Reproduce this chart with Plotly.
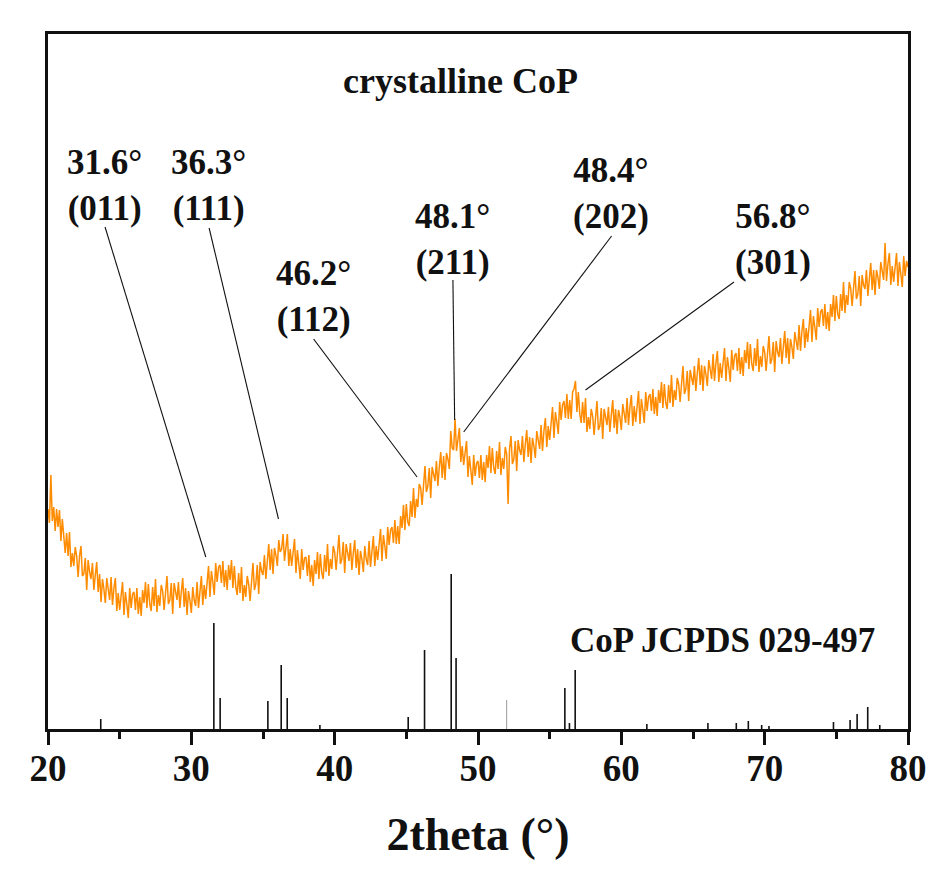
import plotly.graph_objects as go

# ---------------- data ----------------
scan_start = 20.0
scan_step = 0.1
intensity = [
    220, 206, 254, 208, 222, 198, 220, 202, 219, 188,
    210, 187, 176, 196, 173, 197, 162, 176, 163, 182,
    173, 152, 173, 183, 153, 155, 171, 139, 169, 157,
    150, 166, 139, 154, 167, 137, 155, 127, 150, 140,
    126, 151, 137, 129, 152, 124, 141, 151, 118, 136,
    119, 136, 147, 114, 137, 125, 111, 141, 121, 135,
    137, 119, 141, 115, 132, 113, 139, 126, 147, 121,
    145, 125, 118, 142, 123, 150, 117, 134, 123, 144,
    138, 119, 141, 153, 125, 129, 146, 115, 146, 135,
    129, 147, 121, 137, 151, 122, 141, 114, 138, 129,
    116, 142, 129, 123, 147, 121, 140, 153, 124, 144,
    130, 149, 163, 132, 158, 147, 134, 166, 147, 162,
    164, 146, 168, 142, 159, 139, 164, 149, 169, 141,
    163, 142, 134, 156, 136, 162, 128, 144, 132, 153,
    145, 128, 152, 166, 139, 145, 164, 135, 167, 158,
    154, 174, 150, 169, 185, 159, 180, 155, 181, 174,
    163, 189, 177, 180, 195, 168, 185, 195, 163, 180,
    163, 179, 190, 156, 179, 165, 150, 180, 159, 171,
    172, 153, 174, 147, 164, 143, 169, 155, 177, 150,
    175, 156, 150, 174, 157, 185, 153, 170, 160, 183,
    177, 159, 181, 194, 165, 170, 187, 156, 185, 174,
    168, 186, 159, 176, 189, 161, 180, 154, 178, 170,
    157, 183, 170, 164, 188, 162, 181, 193, 163, 183,
    169, 187, 200, 168, 194, 183, 170, 202, 184, 199,
    202, 186, 209, 185, 203, 185, 213, 201, 224, 199,
    225, 207, 203, 228, 212, 241, 211, 230, 222, 245,
    241, 224, 249, 263, 237, 243, 261, 231, 262, 253,
    248, 268, 243, 262, 277, 251, 273, 249, 276, 270,
    260, 298, 281, 279, 310, 278, 293, 301, 267, 283,
    264, 278, 288, 252, 273, 259, 244, 274, 253, 266,
    268, 251, 274, 249, 267, 247, 274, 261, 283, 256,
    281, 261, 255, 278, 260, 287, 254, 271, 260, 282,
    275, 225, 280, 293, 265, 270, 288, 258, 289, 279,
    274, 293, 267, 285, 299, 272, 292, 266, 291, 283,
    271, 298, 286, 280, 304, 278, 298, 311, 282, 303,
    289, 308, 322, 291, 317, 307, 295, 327, 309, 324,
    328, 311, 335, 310, 329, 310, 337, 340, 348, 317,
    337, 315, 306, 327, 306, 331, 297, 312, 300, 320,
    313, 294, 316, 328, 299, 303, 321, 290, 320, 310,
    304, 322, 297, 314, 329, 301, 320, 295, 319, 312,
    299, 325, 313, 306, 331, 304, 322, 334, 303, 323,
    307, 325, 338, 305, 330, 319, 306, 337, 318, 332,
    335, 318, 340, 315, 332, 313, 339, 326, 347, 321,
    345, 326, 320, 344, 326, 354, 322, 339, 329, 351,
    345, 327, 350, 363, 335, 340, 358, 328, 359, 349,
    344, 363, 338, 356, 371, 344, 364, 338, 363, 355,
    343, 369, 357, 350, 375, 348, 366, 378, 347, 366,
    351, 368, 381, 348, 372, 361, 347, 379, 359, 373,
    376, 358, 381, 355, 372, 353, 379, 366, 387, 360,
    385, 365, 358, 381, 363, 390, 357, 373, 362, 383,
    377, 358, 381, 393, 365, 370, 387, 357, 388, 377,
    372, 391, 365, 383, 398, 371, 391, 365, 390, 382,
    370, 397, 385, 379, 404, 378, 398, 410, 381, 401,
    387, 405, 419, 387, 413, 402, 389, 421, 402, 417,
    420, 403, 425, 400, 417, 398, 425, 412, 434, 408,
    433, 415, 410, 435, 418, 447, 416, 434, 424, 447,
    441, 423, 446, 458, 430, 435, 453, 423, 454, 444,
    440, 459, 433, 451, 466, 439, 459, 434, 459, 452,
    440, 467, 455, 449, 486, 448, 465, 476, 444, 463,
    447, 464, 476, 443, 467, 455, 442, 473, 453, 468,
    462,
]
two_theta = [round(scan_start + i * scan_step, 2) for i in range(len(intensity))]

# CoP JCPDS 029-0497 reference sticks
ref_pos = [23.68, 31.57, 32.01, 35.34, 36.27, 36.69, 38.97, 45.13, 46.27, 48.13,
           48.47, 56.06, 56.38, 56.78, 61.78, 66.04, 68.02, 68.86, 69.79, 70.30,
           74.80, 75.96, 76.45, 77.19, 78.03]
ref_int = [10, 106, 31, 28, 64, 31, 4, 12, 79, 155,
           71, 41, 6, 59, 5, 6, 6, 8, 4, 3,
           7, 9, 15, 22, 4]
ref_weak_pos = [52.0]
ref_weak_int = [29]

# peak labels and leader lines
peak_labels = ["31.6°<br>(011)", "36.3°<br>(111)", "46.2°<br>(112)",
               "48.1°<br>(211)", "48.4°<br>(202)", "56.8°<br>(301)"]
label_x = [23.91, 31.20, 38.53, 48.25, 59.28, 70.56]
label_y = [544, 544, 433, 490, 536, 490]
leader_x0 = [23.98, 31.24, 38.53, 48.25, 59.32, 67.86]
leader_y0 = [502, 501, 390, 449, 493, 447]
leader_x1 = [31.01, 36.08, 45.75, 48.37, 49.00, 57.50]
leader_y1 = [172, 210, 252, 309, 297, 339]

sample_title = "crystalline CoP"
ref_title = "CoP JCPDS 029-497"
x_title = "2theta (°)"
x_ticks = [20, 30, 40, 50, 60, 70, 80]

# ---------------- figure ----------------
FONT = "Liberation Serif, Times New Roman, serif"


def sticks(pos, hgt):
    xs, ys = [], []
    for p, h in zip(pos, hgt):
        xs += [p, p, None]
        ys += [0, h, None]
    return xs, ys


fig = go.Figure()

fig.add_trace(go.Scatter(x=two_theta, y=intensity, mode="lines",
                         line=dict(color="#FF8C00", width=1.5),
                         showlegend=False, hoverinfo="skip"))

sx, sy = sticks(ref_pos, ref_int)
fig.add_trace(go.Scatter(x=sx, y=sy, mode="lines",
                         line=dict(color="#111111", width=1.6),
                         showlegend=False, hoverinfo="skip"))
wx, wy = sticks(ref_weak_pos, ref_weak_int)
fig.add_trace(go.Scatter(x=wx, y=wy, mode="lines",
                         line=dict(color="#999999", width=1),
                         showlegend=False, hoverinfo="skip"))

lx, ly = [], []
for a, b, c, d in zip(leader_x0, leader_y0, leader_x1, leader_y1):
    lx += [a, c, None]
    ly += [b, d, None]
fig.add_trace(go.Scatter(x=lx, y=ly, mode="lines",
                         line=dict(color="#111111", width=1.1),
                         showlegend=False, hoverinfo="skip"))

annotations = []
for t, x, y in zip(peak_labels, label_x, label_y):
    annotations.append(dict(x=x, y=y, xref="x", yref="y", text=t, showarrow=False,
                            xanchor="center", yanchor="middle",
                            font=dict(family=FONT, size=35, color="#111111", weight="bold")))
annotations.append(dict(x=48.8, y=648, xref="x", yref="y", text=sample_title,
                        showarrow=False, xanchor="center", yanchor="middle",
                        font=dict(family=FONT, size=36, color="#111111", weight="bold")))
annotations.append(dict(x=67.04, y=89, xref="x", yref="y", text=ref_title,
                        showarrow=False, xanchor="center", yanchor="middle",
                        font=dict(family=FONT, size=35, color="#111111", weight="bold")))

fig.update_layout(
    width=943, height=883,
    margin=dict(l=48, r=35, t=34, b=154),
    paper_bgcolor="white", plot_bgcolor="white",
    annotations=annotations,
    xaxis=dict(range=[20, 80], tickvals=x_ticks, ticktext=[str(v) for v in x_ticks],
               ticks="outside", ticklen=13, tickwidth=3, tickcolor="#111111",
               ticklabelstandoff=-8,
               minor=dict(dtick=5, tick0=20, ticks="outside", ticklen=7, tickwidth=3,
                          tickcolor="#111111", showgrid=False),
               showline=True, linewidth=3, linecolor="#111111", mirror=True,
               showgrid=False, zeroline=False,
               tickfont=dict(family=FONT, size=37, color="#111111", weight="bold"),
               title=dict(text=x_title, standoff=30,
                          font=dict(family=FONT, size=46, color="#111111", weight="bold"))),
    yaxis=dict(range=[0, 695], showticklabels=False, ticks="",
               showline=True, linewidth=3, linecolor="#111111", mirror=True,
               showgrid=False, zeroline=False),
)

fig.write_html("out.html")
